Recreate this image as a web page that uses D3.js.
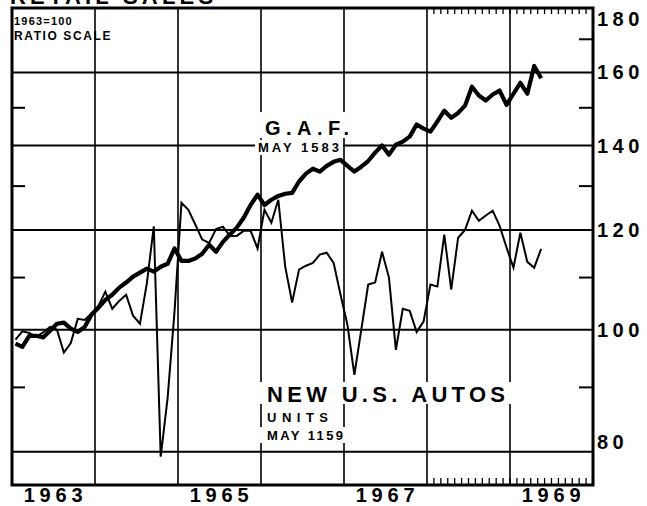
<!DOCTYPE html>
<html>
<head>
<meta charset="utf-8">
<title>Retail Sales</title>
<script src="https://d3js.org/d3.v7.min.js"></script>
<style>
body { margin: 0; background: #fff; }
text { font-family: "Liberation Sans", Arial, sans-serif; font-weight: bold; fill: #000; }
</style>
</head>
<body>
<div id="chart"></div>
<script type="text/javascript">

// monthly index values, 1963=100, Jan 1963 .. May 1969
var startYear = 1963;
var gaf = [97.5, 96.9, 98.9, 98.9, 98.6, 99.8, 101.1, 101.3, 100.2, 99.6, 100.5, 102.8,
	104.1, 105.6, 106.6, 108.0, 109.0, 110.2, 111.0, 111.8, 111.2, 112.2, 112.8, 116.0,
	113.4, 113.4, 113.9, 114.9, 116.8, 115.3, 117.4, 119.0, 120.5, 122.7, 125.6, 128.0,
	125.6, 126.8, 127.7, 128.2, 128.4, 131.1, 133.0, 134.2, 133.5, 134.9, 135.9, 136.4,
	134.9, 133.5, 134.7, 136.1, 138.2, 140.0, 137.7, 140.2, 141.0, 142.3, 145.5, 144.4,
	143.6, 146.3, 149.2, 147.3, 148.6, 150.6, 155.9, 153.4, 152.0, 153.7, 154.8, 150.8,
	153.9, 157.0, 153.9, 161.9, 158.3];
var autos = [98.2, 99.7, 99.4, 98.7, 99.5, 100.5, 100.0, 95.9, 97.6, 102.0, 101.8, 103.0,
	104.5, 107.2, 103.9, 105.4, 106.6, 102.6, 101.1, 108.9, 120.8, 79.3, 88.3, 103.4,
	126.1, 124.5, 121.2, 117.9, 117.2, 120.2, 120.7, 118.7, 118.7, 119.8, 119.8, 116.0,
	124.5, 121.6, 126.8, 112.2, 105.1, 111.6, 112.4, 113.0, 114.7, 115.1, 113.0, 106.6,
	100.9, 92.1, 100.0, 108.6, 109.0, 115.3, 110.0, 96.4, 103.9, 103.5, 99.6, 101.5,
	108.6, 108.2, 119.0, 107.6, 118.3, 120.0, 124.3, 122.0, 123.2, 124.3, 120.9, 116.2,
	112.0, 119.4, 113.2, 112.0, 115.9];

var gridValues = [80, 100, 120, 140, 160];
var rightTicks = [90, 110, 130, 150, 170];
var leftTicks = [90, 110, 130, 150];
var axisLabels = [180, 160, 140, 120, 100, 80];
var gridYears = [1964, 1965, 1966, 1967, 1968, 1969];
var yearLabels = [1963, 1965, 1967, 1969];

var width = 647;
var height = 506;
var plotLeft = 12, plotRight = 593, plotTop = 8, plotBottom = 485;

var svg = d3.select("#chart").append("svg").attr("width", width).attr("height", height);

var x = d3.scaleLinear().domain([1963, 1970]).range([plotLeft, plotRight]);
var y = d3.scaleLog().domain([75.3, 180]).range([plotBottom, plotTop]);

function monthX(d, i) { return x(startYear + (i + 0.5) / 12); }

// grid
svg.selectAll(".hgrid").data(gridValues).enter().append("line")
	.attr("x1", plotLeft).attr("x2", plotRight)
	.attr("y1", function(d) { return y(d); }).attr("y2", function(d) { return y(d); })
	.attr("stroke", "black").attr("stroke-width", 2);

svg.selectAll(".vgrid").data(gridYears).enter().append("line")
	.attr("x1", function(d) { return x(d); }).attr("x2", function(d) { return x(d); })
	.attr("y1", plotTop).attr("y2", plotBottom)
	.attr("stroke", "black").attr("stroke-width", 1.6);

svg.selectAll(".rtick").data(rightTicks).enter().append("line")
	.attr("x1", plotRight - 14).attr("x2", plotRight)
	.attr("y1", function(d) { return y(d); }).attr("y2", function(d) { return y(d); })
	.attr("stroke", "black").attr("stroke-width", 2);

svg.selectAll(".ltick").data(leftTicks).enter().append("line")
	.attr("x1", plotLeft).attr("x2", plotLeft + 13)
	.attr("y1", function(d) { return y(d); }).attr("y2", function(d) { return y(d); })
	.attr("stroke", "black").attr("stroke-width", 2);

// month ticks 1968-1969
var monthTicks = d3.range(1, 24).map(function(m) { return 1968 + m / 12; });
svg.selectAll(".mtop").data(monthTicks).enter().append("line")
	.attr("x1", function(d) { return x(d); }).attr("x2", function(d) { return x(d); })
	.attr("y1", plotTop).attr("y2", plotTop + 6)
	.attr("stroke", "black").attr("stroke-width", 1.3);
svg.selectAll(".mbot").data(monthTicks).enter().append("line")
	.attr("x1", function(d) { return x(d); }).attr("x2", function(d) { return x(d); })
	.attr("y1", plotBottom).attr("y2", plotBottom - 7)
	.attr("stroke", "black").attr("stroke-width", 1.3);

// label backgrounds
var boxes = [[257, 112, 98, 26], [255, 140, 88, 15], [259, 382, 254, 22], [259, 427, 88, 16]];
svg.selectAll(".bg").data(boxes).enter().append("rect")
	.attr("x", function(d) { return d[0]; }).attr("y", function(d) { return d[1]; })
	.attr("width", function(d) { return d[2]; }).attr("height", function(d) { return d[3]; })
	.attr("fill", "white");

// series
var line = d3.line().x(monthX).y(function(d) { return y(d); });

svg.append("path").datum(autos).attr("d", line)
	.attr("fill", "none").attr("stroke", "black").attr("stroke-width", 2)
	.attr("stroke-linejoin", "miter");

svg.append("path").datum(gaf).attr("d", line)
	.attr("fill", "none").attr("stroke", "black").attr("stroke-width", 4.2)
	.attr("stroke-linejoin", "round");

// frame
svg.append("rect").attr("x", plotLeft).attr("y", plotTop)
	.attr("width", plotRight - plotLeft).attr("height", plotBottom - plotTop)
	.attr("fill", "none").attr("stroke", "black").attr("stroke-width", 3);

// right axis labels
svg.selectAll(".ylab").data(axisLabels).enter().append("text")
	.attr("x", plotRight + 4)
	.attr("y", function(d) { return y(d) + (d == 180 ? 11 : d == 80 ? -10 : 0); })
	.attr("dominant-baseline", "central")
	.attr("font-size", 20).attr("letter-spacing", 4.5)
	.text(function(d) { return d; });

// year labels
svg.selectAll(".xlab").data(yearLabels).enter().append("text")
	.attr("x", function(d) { return x(d + 0.5) + 2; })
	.attr("y", 502)
	.attr("text-anchor", "middle")
	.attr("font-size", 20).attr("letter-spacing", 4.8)
	.text(function(d) { return d; });

// titles and notes
svg.append("text").attr("x", 10).attr("y", 4).attr("font-size", 22).attr("letter-spacing", 4.2).text("RETAIL SALES");
svg.append("text").attr("x", 14).attr("y", 25).attr("font-size", 11).attr("letter-spacing", 1.2).text("1963=100");
svg.append("text").attr("x", 14).attr("y", 40).attr("font-size", 12).attr("letter-spacing", 1.6).text("RATIO SCALE");

svg.append("text").attr("x", 265).attr("y", 135).attr("font-size", 20).attr("letter-spacing", 5.5).text("G.A.F.");
svg.append("text").attr("x", 258).attr("y", 152).attr("font-size", 13).attr("letter-spacing", 3).text("MAY 1583");

svg.append("text").attr("x", 267).attr("y", 402).attr("font-size", 22).attr("letter-spacing", 4.3).text("NEW U.S. AUTOS");
svg.append("text").attr("x", 267).attr("y", 422).attr("font-size", 13).attr("letter-spacing", 5.5).text("UNITS");
svg.append("text").attr("x", 267).attr("y", 440).attr("font-size", 13).attr("letter-spacing", 2.4).text("MAY 1159");

</script>
</body>
</html>
